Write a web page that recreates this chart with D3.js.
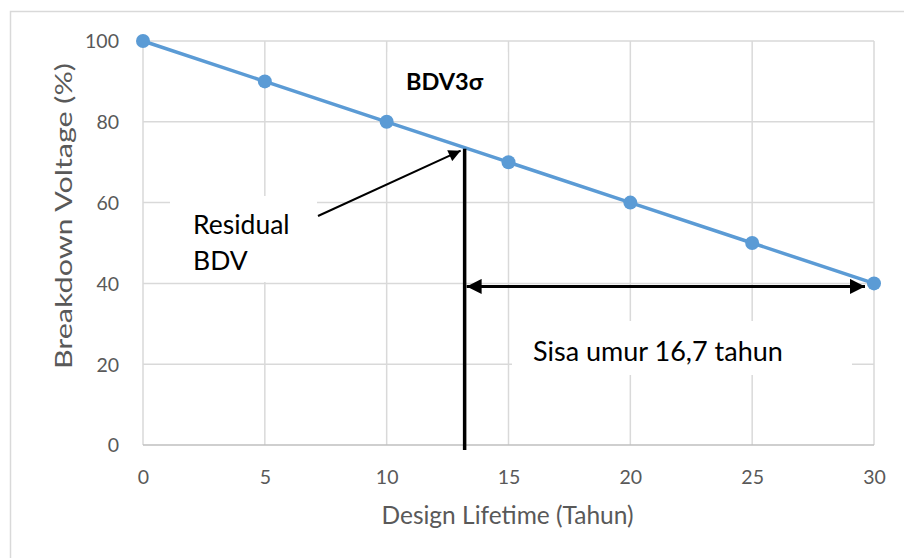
<!DOCTYPE html>
<html>
<head>
<meta charset="utf-8">
<script src="https://cdn.jsdelivr.net/npm/d3@7"></script>
<style>
  html, body { margin: 0; padding: 0; background: #fff; }
  svg { display: block; }
  text { font-family: Lato, "Open Sans", sans-serif; }
</style>
</head>
<body>
<svg id="chart" width="904" height="558"></svg>
<script>
// ---- data ----
const years = [0, 5, 10, 15, 20, 25, 30];
const bdv = [100, 90, 80, 70, 60, 50, 40];
const xTicks = [0, 5, 10, 15, 20, 25, 30];
const yTicks = [0, 20, 40, 60, 80, 100];
const xTitle = "Design Lifetime (Tahun)";
const yTitle = "Breakdown Voltage (%)";
const seriesLabel = "BDV3σ";
const residualLabel = ["Residual", "BDV"];
const remainingLabel = "Sisa umur 16,7 tahun";
const residualYear = 13.2;      // where the vertical marker stands
const residualLevel = 40;       // level of the double arrow

// ---- layout ----
const svg = d3.select("#chart");
const plot = { left: 143, right: 874, top: 41, bottom: 445 };
const x = d3.scaleLinear().domain([0, 30]).range([plot.left, plot.right]);
const y = d3.scaleLinear().domain([0, 100]).range([plot.bottom, plot.top]);

const blue = "#5B9BD5";
const grid = "#D9D9D9";
const textGray = "#595959";

// outer chart frame (only left and top edges visible in the crop)
svg.append("rect")
  .attr("x", 10.5).attr("y", 11.5).attr("width", 1000).attr("height", 1000)
  .attr("fill", "none").attr("stroke", grid).attr("stroke-width", 1.5);

// defs: arrow markers
const defs = svg.append("defs");
defs.append("marker").attr("id", "arrBig")
  .attr("viewBox", "0 0 10 10").attr("refX", 10).attr("refY", 5)
  .attr("markerWidth", 5.5).attr("markerHeight", 5)
  .attr("markerUnits", "strokeWidth").attr("orient", "auto-start-reverse")
  .append("path").attr("d", "M0,0 L10,5 L0,10 Z").attr("fill", "#000");
defs.append("marker").attr("id", "arrSmall")
  .attr("viewBox", "0 0 10 10").attr("refX", 10).attr("refY", 5)
  .attr("markerWidth", 7.5).attr("markerHeight", 6)
  .attr("markerUnits", "strokeWidth").attr("orient", "auto")
  .append("path").attr("d", "M0,0 L10,5 L0,10 Z").attr("fill", "#000");

// gridlines
const gGrid = svg.append("g");
gGrid.selectAll("line.h").data(yTicks.filter(d => d > 0)).join("line")
  .attr("x1", plot.left).attr("x2", plot.right)
  .attr("y1", d => y(d)).attr("y2", d => y(d))
  .attr("stroke", grid).attr("stroke-width", 1.5);
gGrid.selectAll("line.v").data(xTicks).join("line")
  .attr("x1", d => x(d)).attr("x2", d => x(d))
  .attr("y1", plot.top).attr("y2", plot.bottom)
  .attr("stroke", grid).attr("stroke-width", 1.5);

// bottom axis line
svg.append("line")
  .attr("x1", plot.left).attr("x2", plot.right)
  .attr("y1", plot.bottom).attr("y2", plot.bottom)
  .attr("stroke", "#BFBFBF").attr("stroke-width", 1.5);

// axes (labels only)
const xAxis = svg.append("g").attr("transform", `translate(0,${plot.bottom})`)
  .call(d3.axisBottom(x).tickValues(xTicks).tickSize(0).tickPadding(0));
xAxis.select(".domain").remove();
xAxis.selectAll("text").attr("dy", null).attr("y", 39)
  .attr("font-size", 19.5).attr("fill", textGray).attr("font-family", "Lato");

const yAxis = svg.append("g").attr("transform", `translate(${plot.left},0)`)
  .call(d3.axisLeft(y).tickValues(yTicks).tickSize(0).tickPadding(0));
yAxis.select(".domain").remove();
yAxis.selectAll("text").attr("x", -24).attr("dy", "0.35em")
  .attr("font-size", 19.5).attr("fill", textGray).attr("font-family", "Lato");

// axis titles
svg.append("text").attr("x", x(15) - 1).attr("y", 524)
  .attr("text-anchor", "middle").attr("font-size", 24.5).attr("fill", textGray)
  .text(xTitle);
svg.append("text")
  .attr("transform", `translate(72,216) rotate(-90)`)
  .attr("text-anchor", "middle").attr("font-size", 23).attr("fill", textGray)
  .attr("textLength", 306).attr("lengthAdjust", "spacingAndGlyphs")
  .text(yTitle);

// annotation text boxes (white backgrounds hide gridlines)
function box(x0, y0, x1, y1) {
  svg.append("rect").attr("x", x0).attr("y", y0)
    .attr("width", x1 - x0).attr("height", y1 - y0).attr("fill", "#fff");
}
box(x(10) + 1, 52, x(15) - 1, 112);
box(170, 196, 317, 282);
box(512, 321, 852, 375);

// series line + markers
const pts = years.map((d, i) => [d, bdv[i]]);
svg.append("path").datum(pts)
  .attr("d", d3.line().x(d => x(d[0])).y(d => y(d[1])))
  .attr("fill", "none").attr("stroke", blue).attr("stroke-width", 3.5);
svg.selectAll("circle.pt").data(pts).join("circle")
  .attr("cx", d => x(d[0])).attr("cy", d => y(d[1])).attr("r", 7)
  .attr("fill", blue);

// vertical residual marker
svg.append("line")
  .attr("x1", x(residualYear)).attr("x2", x(residualYear))
  .attr("y1", y(100 - 2 * residualYear) + 1).attr("y2", plot.bottom + 5)
  .attr("stroke", "#000").attr("stroke-width", 3.5);

// double arrow: remaining life
svg.append("line")
  .attr("x1", x(residualYear) + 2).attr("x2", x(30) - 9)
  .attr("y1", y(residualLevel) + 3).attr("y2", y(residualLevel) + 3)
  .attr("stroke", "#000").attr("stroke-width", 3)
  .attr("marker-start", "url(#arrBig)").attr("marker-end", "url(#arrBig)");

// arrow from residual label
svg.append("line")
  .attr("x1", 318).attr("y1", 216)
  .attr("x2", x(residualYear) - 4).attr("y2", y(100 - 2 * residualYear) + 3)
  .attr("stroke", "#000").attr("stroke-width", 2)
  .attr("marker-end", "url(#arrSmall)");

// annotation texts
svg.append("text").attr("x", 406).attr("y", 90)
  .attr("font-size", 23.5).attr("font-weight", "bold").attr("fill", "#000")
  .text(seriesLabel);
svg.append("text").attr("x", 193).attr("y", 234)
  .attr("font-size", 26.5).attr("fill", "#000")
  .selectAll("tspan").data(residualLabel).join("tspan")
  .attr("x", 193).attr("dy", (d, i) => i === 0 ? 0 : 36).text(d => d);
svg.append("text").attr("x", 533).attr("y", 361)
  .attr("font-size", 27).attr("fill", "#000")
  .text(remainingLabel);
</script>
</body>
</html>
